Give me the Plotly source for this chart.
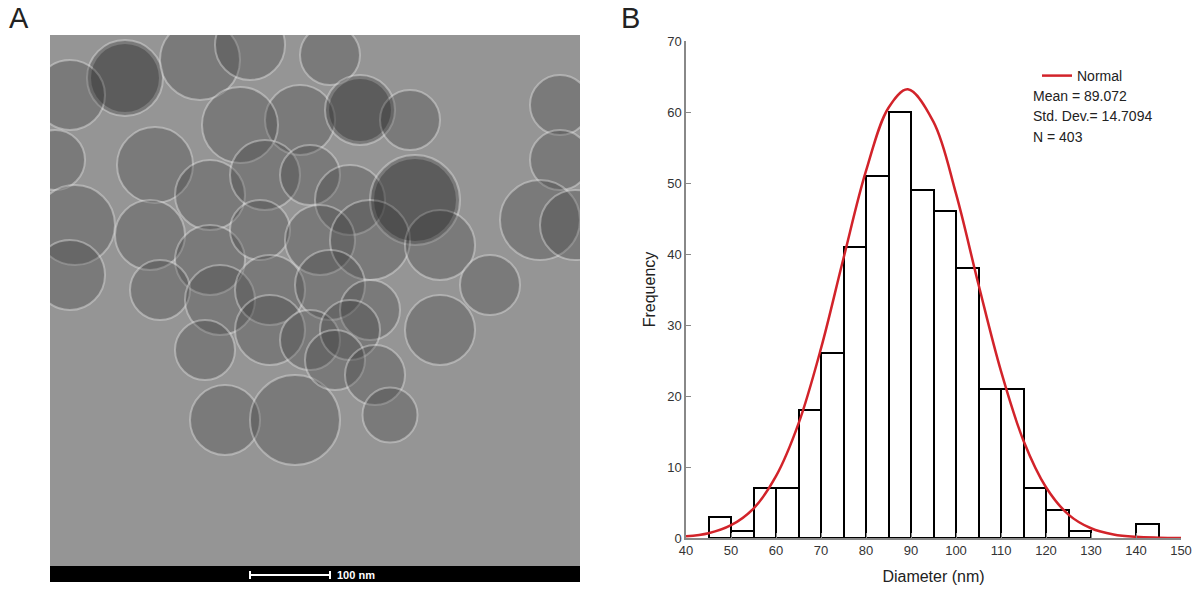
import plotly.graph_objects as go

# panel B: particle size histogram (bin left edges, width 5 nm)
bin_left = [45, 50, 55, 60, 65, 70, 75, 80, 85, 90, 95, 100, 105, 110, 115, 120, 125, 140]
bin_count = [3, 1, 7, 7, 18, 26, 41, 51, 60, 49, 46, 38, 21, 21, 7, 4, 1, 2]

# fitted normal curve
curve_x = [40, 45, 50, 55, 60, 65, 70, 75, 80, 85, 89.3, 95, 100, 105, 110, 115, 120, 125, 130, 135, 140, 145, 150]
curve_y = [0.23, 0.67, 1.8, 4.15, 8.7, 16.1, 26.7, 39.4, 51.7, 60.6, 63.2, 58.6, 48.5, 35.7, 23.5, 13.7,
           7.15, 3.3, 1.37, 0.5, 0.16, 0.05, 0.01]

x_ticks = [40, 50, 60, 70, 80, 90, 100, 110, 120, 130, 140, 150]
y_ticks = [0, 10, 20, 30, 40, 50, 60, 70]

stats_lines = ["Mean = 89.072", "Std. Dev.= 14.7094", "N = 403"]

# panel A: TEM micrograph, particles as (x, y, diameter) in image pixels
particle_x = [75, 20, 150, 200, 280, 250, 190, 310, 360, 5, 105, 160, 215, 260, 300, 365, 510, 510, 490, 525,
              25, 20, 100, 160, 210, 270, 320, 390, 440, 110, 170, 220, 280, 320, 155, 220, 260, 300, 390,
              175, 245, 285, 325, 340]
particle_y = [43, 60, 25, 10, 20, 85, 90, 75, 85, 125, 130, 160, 140, 140, 165, 165, 70, 125, 185, 190,
              190, 240, 200, 225, 195, 205, 205, 210, 250, 255, 265, 255, 250, 275, 315, 295, 305, 295, 295,
              385, 385, 325, 340, 380]
particle_d = [76, 70, 80, 70, 60, 70, 76, 70, 60, 60, 76, 70, 70, 60, 70, 90, 60, 60, 80, 70,
              80, 70, 70, 70, 60, 70, 80, 70, 60, 60, 70, 70, 70, 60, 60, 70, 60, 60, 70,
              70, 90, 60, 60, 55]
dark_particles = [0, 7, 15]

img_w, img_h, bar_h = 530, 531, 16

W, H = 1200, 591


def px(x):
    return x / W


def py(y):
    return 1 - y / H


fig = go.Figure()

# TEM image stand-in
fig.add_trace(go.Scatter(
    x=particle_x, y=particle_y, mode='markers', xaxis='x2', yaxis='y2', showlegend=False, hoverinfo='skip',
    marker=dict(size=particle_d, color='rgba(60,60,60,0.42)',
                line=dict(color='rgba(235,235,235,0.55)', width=2))))
fig.add_trace(go.Scatter(
    x=[particle_x[i] for i in dark_particles], y=[particle_y[i] for i in dark_particles],
    mode='markers', xaxis='x2', yaxis='y2', showlegend=False, hoverinfo='skip',
    marker=dict(size=[particle_d[i] - 8 for i in dark_particles], color='rgba(30,30,30,0.45)', line=dict(width=0))))

# histogram
fig.add_trace(go.Bar(
    x=[b + 2.5 for b in bin_left], y=bin_count, width=5, showlegend=False,
    marker=dict(color='white', line=dict(color='black', width=2))))

fig.add_trace(go.Scatter(
    x=curve_x, y=curve_y, mode='lines', name='Normal', line_shape='spline',
    line=dict(color='#d2232a', width=2.5)))

for i, txt in enumerate(stats_lines):
    fig.add_annotation(text=txt, xref='paper', yref='paper', x=px(1031), y=py(96 + 20.5 * i),
                       xanchor='left', yanchor='middle', showarrow=False,
                       font=dict(size=14, color='#222'))

# panel letters
for letter, lx in (('A', 7), ('B', 619)):
    fig.add_annotation(text=letter, xref='paper', yref='paper', x=px(lx), y=py(18.5), xanchor='left',
                       yanchor='middle', showarrow=False, font=dict(size=29, color='#222'))

# black info strip and scale bar
fig.add_shape(type='rect', xref='x2', yref='y2', x0=0, x1=img_w, y0=img_h, y1=img_h + bar_h,
              fillcolor='black', line_width=0)
fig.add_shape(type='line', xref='x2', yref='y2', x0=200, x1=280, y0=img_h + 9, y1=img_h + 9,
              line=dict(color='white', width=2))
for xx in (200, 280):
    fig.add_shape(type='line', xref='x2', yref='y2', x0=xx, x1=xx, y0=img_h + 5, y1=img_h + 13,
                  line=dict(color='white', width=2))
fig.add_annotation(text='<b>100 nm</b>', xref='x2', yref='y2', x=285, y=img_h + 9, xanchor='left',
                   yanchor='middle', showarrow=False, font=dict(size=11, color='white'))

fig.update_layout(
    width=W, height=H, margin=dict(l=0, r=0, t=0, b=0, autoexpand=False),
    paper_bgcolor='white', plot_bgcolor='white',
    font=dict(family='Liberation Sans, Arial, sans-serif', color='#222'),
    bargap=0,
    xaxis=dict(domain=[px(686), px(1181)], range=[40, 150], tickvals=x_ticks, automargin=False,
               showgrid=False, zeroline=False, showline=True, linecolor='#888', linewidth=1.5,
               ticks='inside', ticklen=5, tickcolor='#888', tickfont=dict(size=13, color='#333'),
               title=dict(text='Diameter (nm)', font=dict(size=16, color='#222'), standoff=13),
               anchor='y'),
    yaxis=dict(domain=[py(538), py(41)], range=[0, 70], tickvals=y_ticks, automargin=False,
               showgrid=False, zeroline=False, showline=True, linecolor='#888', linewidth=1.5,
               ticks='inside', ticklen=5, tickcolor='#888', tickfont=dict(size=13, color='#333'),
               title=dict(text='Frequency', font=dict(size=16, color='#222'), standoff=8),
               anchor='x'),
    xaxis2=dict(domain=[px(50), px(580)], range=[0, img_w], visible=False, anchor='y2', automargin=False),
    yaxis2=dict(domain=[py(582), py(35)], range=[img_h + bar_h, 0], visible=False, anchor='x2',
                automargin=False),
    showlegend=True,
    legend=dict(x=px(1037), y=py(60), xanchor='left', yanchor='top', bgcolor='rgba(0,0,0,0)',
                font=dict(size=14, color='#222'), itemwidth=30),
)
# grey micrograph background
fig.add_shape(type='rect', xref='x2', yref='y2', x0=0, x1=img_w, y0=0, y1=img_h,
              fillcolor='#959595', line_width=0, layer='below')

# drop the browser's default 8px body margin so the figure fills the window
fig.write_html("out.html", config={'displayModeBar': False},
               post_script="document.body.style.margin='0';document.body.style.overflow='hidden';")
